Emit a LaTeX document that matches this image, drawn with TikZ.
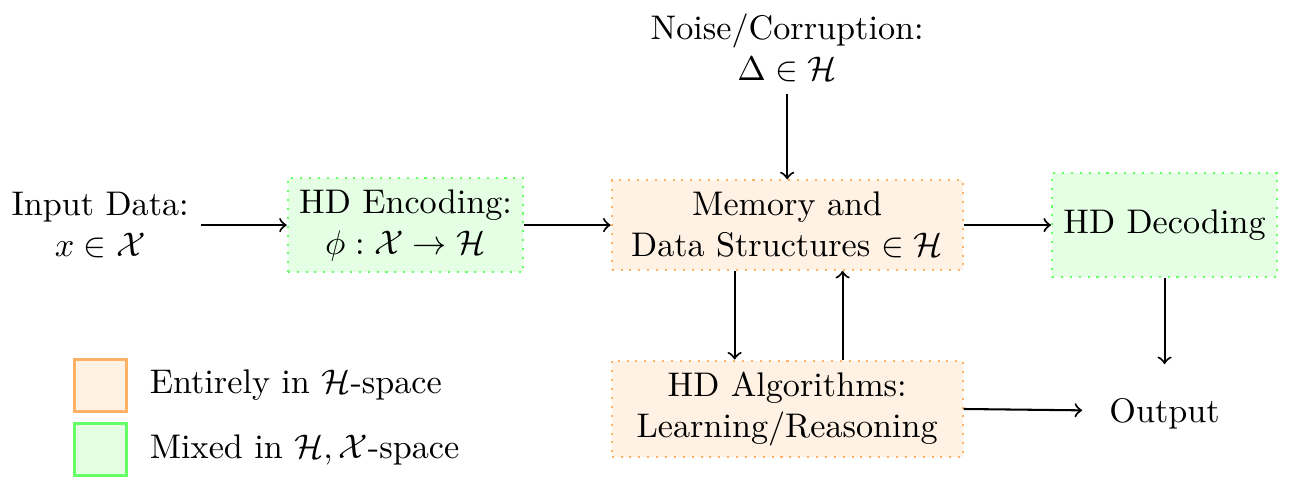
\documentclass[tikz,border=0pt]{standalone}
\usepackage{amsmath, amssymb}
\usepackage{tikz}
\usetikzlibrary{positioning}
\usetikzlibrary{arrows}
\tikzset{hbox/.style={draw=orange!60, fill=orange!10, dotted, semithick, align=center}}
\tikzset{mixbox/.style={draw=green!60, fill=green!10, dotted, semithick, align=center}}
\tikzset{legbox/.style={thick, minimum size=0.54cm}}

\begin{document}
\begin{tikzpicture}
\useasboundingbox (0,0) rectangle (13.41,5.08);
\node[align=center] (input) at (1.03,2.765) {Input Data:\\ $x\in\mathcal{X}$};
\node[mixbox, minimum width=2.39cm, minimum height=0.97cm] (enc) at (4.17,2.765) {HD Encoding:\\ $\phi:\mathcal{X}\to\mathcal{H}$};
\node[hbox, minimum width=3.61cm, minimum height=0.92cm] (mem) at (8.095,2.765) {Memory and\\ Data Structures $\in\mathcal{H}$};
\node[mixbox, minimum width=2.30cm, minimum height=1.07cm] (dec) at (11.976,2.765) {HD Decoding};
\node[align=center] (noise) at (8.095,4.59) {Noise/Corruption:\\ $\Delta\in\mathcal{H}$};
\node[hbox, minimum width=3.61cm, minimum height=0.99cm] (alg) at (8.095,0.874) {HD Algorithms:\\ Learning/Reasoning};
\node[inner xsep=7.8pt, inner ysep=9.8pt, text depth=0pt] (out) at (11.976,0.86) {Output};

\draw[->, semithick] (input) -- (enc);
\draw[->, semithick] (enc) -- (mem);
\draw[->, semithick] (mem) -- (dec);
\draw[->, semithick] (noise) -- (mem);
\draw[->, semithick] ([xshift=-0.54cm]mem.south) -- ([xshift=-0.54cm]alg.north);
\draw[->, semithick] ([xshift=0.57cm]alg.north) -- ([xshift=0.57cm]mem.south);
\draw[->, semithick] (dec) -- (out);
\draw[->, semithick] (alg.east) -- (out.west);

\node[legbox, draw=orange!60, fill=orange!10] (legH) at (1.033,1.115) {};
\node[legbox, draw=green!60, fill=green!10] (legX) at (1.033,0.457) {};
\node[right=0.1cm of legH] (txtH) {Entirely in $\mathcal{H}$-space};
\node[right=0.1cm of legX] (txtX) {Mixed in $\mathcal{H},\mathcal{X}$-space};
\end{tikzpicture}
\end{document}
